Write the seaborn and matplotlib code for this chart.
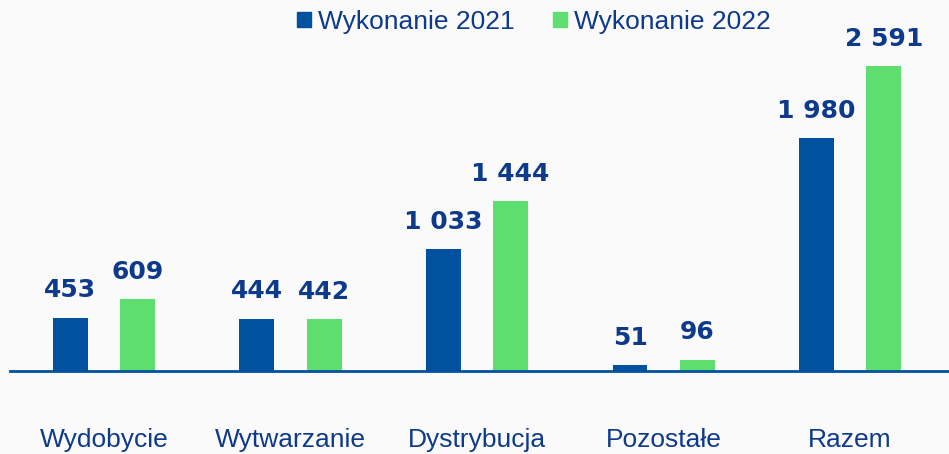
import pandas as pd
import matplotlib.pyplot as plt
import seaborn as sns

# Data
categories = ["Wydobycie", "Wytwarzanie", "Dystrybucja", "Pozostałe", "Razem"]
values_2021 = [453, 444, 1033, 51, 1980]
values_2022 = [609, 442, 1444, 96, 2591]
series = ["Wykonanie 2021", "Wykonanie 2022"]

df = pd.DataFrame({
    "kategoria": categories * 2,
    "wartosc": values_2021 + values_2022,
    "seria": [series[0]] * len(categories) + [series[1]] * len(categories),
})

bg = "#FAFAFA"
text_col = "#0D3A8A"
palette = {series[0]: "#00519E", series[1]: "#5EDE6E"}

sns.set_theme(style="white")
plt.rcParams['font.family'] = ['Liberation Sans', 'DejaVu Sans']

fig = plt.figure(figsize=(9.49, 4.54), dpi=100, facecolor=bg)
ax = fig.add_axes([0.0105, 0.1828, 0.9895, 0.8172])
ax.set_facecolor(bg)

sns.barplot(data=df, x="kategoria", y="wartosc", hue="seria", palette=palette,
            width=0.72, gap=0.48, saturation=1, linewidth=0, ax=ax, legend=False)

# value labels with space as thousands separator
for cont in ax.containers:
    vals = [b.get_height() for b in cont]
    ax.bar_label(cont, labels=[f"{int(round(v)):,}".replace(",", " ") for v in vals],
                 padding=11, fontsize=18, fontweight="bold", color=text_col,
                 family="DejaVu Sans")

ax.set_xlim(-0.504, 4.53)
ax.set_ylim(0, 3152)
ax.set_xlabel("")
ax.set_ylabel("")
ax.set_yticks([])
ax.tick_params(axis="x", length=0, pad=41, labelsize=19, labelcolor=text_col)
for s in ["top", "right", "left"]:
    ax.spines[s].set_visible(False)
ax.spines["bottom"].set_color("#00519E")
ax.spines["bottom"].set_linewidth(2)

# legend
handles = [plt.Rectangle((0, 0), 1, 1, color=palette[s]) for s in series]
leg = fig.legend(handles, series, loc="center", bbox_to_anchor=(0.563, 0.952), ncol=2,
                 frameon=False, fontsize=19, handlelength=0.5, handleheight=0.5,
                 handletextpad=0.3, columnspacing=1.45)
for t in leg.get_texts():
    t.set_color(text_col)

plt.savefig("out.png", dpi=100, facecolor=bg)
